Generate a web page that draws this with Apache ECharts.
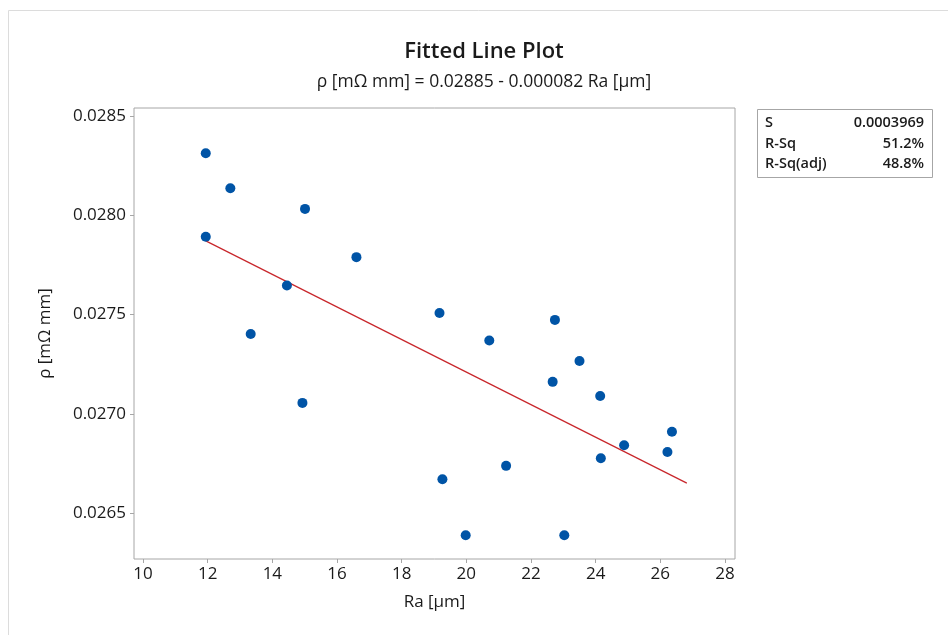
<!DOCTYPE html>
<html>
<head>
<meta charset="utf-8">
<script src="https://cdn.jsdelivr.net/npm/echarts@6/dist/echarts.min.js"></script>
<style>
html,body{margin:0;padding:0;background:#fff;}
#chart{width:948px;height:635px;}
</style>
</head>
<body>
<div id="chart"></div>
<script>
// Data
const ra  = [11.94, 12.70, 15.01, 11.94, 16.60, 14.45, 13.33, 14.93, 19.17, 22.74, 20.71, 23.50, 22.67, 24.14, 26.36, 24.88, 26.22, 24.16, 21.23, 19.26, 19.98, 23.03];
const rho = [0.028312, 0.028136, 0.028032, 0.027892, 0.027789, 0.027646, 0.027402, 0.027055, 0.027508, 0.027473, 0.027369, 0.027266, 0.027161, 0.027090, 0.026910, 0.026842, 0.026808, 0.026776, 0.026738, 0.026671, 0.026389, 0.026389];
const fitRa  = [11.94, 26.82];
const fitRho = [0.027871, 0.026651];
const xTicks = [10, 12, 14, 16, 18, 20, 22, 24, 26, 28];
const yTicks = [0.0265, 0.0270, 0.0275, 0.0280, 0.0285];
const statLabels = ['S', 'R-Sq', 'R-Sq(adj)'];
const statValues = ['0.0003969', '51.2%', '48.8%'];
const titleText = 'Fitted Line Plot';
const subtitleText = 'ρ [mΩ mm] = 0.02885 - 0.000082 Ra [µm]';
const xName = 'Ra [µm]';
const yName = 'ρ [mΩ mm]';

const FONT = 'Open Sans';
const TXT = '#1a1a1a';
const chart = echarts.init(document.getElementById('chart'), null, {renderer: 'canvas'});

const points = ra.map((x, i) => [x, rho[i]]);
const fitLine = fitRa.map((x, i) => [x, fitRho[i]]);

const statGraphics = [];
statLabels.forEach((lab, i) => {
  const y = 123 + i * 20.5;
  statGraphics.push({type: 'text', x: 765, y: y, style: {text: lab, fill: TXT, font: '600 14.5px "' + FONT + '"', textAlign: 'left', textVerticalAlign: 'middle'}});
  statGraphics.push({type: 'text', x: 924, y: y, style: {text: statValues[i], fill: TXT, font: '600 14.5px "' + FONT + '"', textAlign: 'right', textVerticalAlign: 'middle'}});
});

const option = {
  backgroundColor: '#ffffff',
  animation: false,
  textStyle: {fontFamily: FONT},
  grid: {left: 134, top: 108, width: 601, height: 451, show: true, borderColor: '#a6a6a6', borderWidth: 1, containLabel: false},
  xAxis: {
    type: 'value', min: 9.72, max: 28.31,
    name: xName, nameLocation: 'middle', nameGap: 35,
    nameTextStyle: {fontFamily: FONT, fontSize: 17, color: TXT},
    axisLine: {show: false},
    axisTick: {show: true, customValues: xTicks, length: 4, lineStyle: {color: '#a6a6a6'}},
    axisLabel: {customValues: xTicks, fontFamily: FONT, fontSize: 17, color: TXT, margin: 7},
    splitLine: {show: false}
  },
  yAxis: {
    type: 'value', min: 0.026269, max: 0.02854,
    name: yName, nameLocation: 'middle', nameGap: 80, nameRotate: 90,
    nameTextStyle: {fontFamily: FONT, fontSize: 17, color: TXT},
    axisLine: {show: false},
    axisTick: {show: true, customValues: yTicks, length: 4, lineStyle: {color: '#a6a6a6'}},
    axisLabel: {customValues: yTicks, fontFamily: FONT, fontSize: 17, color: TXT, margin: 8,
      formatter: v => v.toFixed(4)},
    splitLine: {show: false}
  },
  graphic: [
    {type: 'rect', shape: {x: 8.5, y: 10.5, width: 1000, height: 1000}, style: {fill: null, stroke: '#dcdcdc', lineWidth: 1}, silent: true, z: -10},
    {type: 'text', x: 484, y: 52, style: {text: titleText, fill: TXT, font: '600 22px "' + FONT + '"', textAlign: 'center', textVerticalAlign: 'middle'}},
    {type: 'text', x: 484, y: 82, style: {text: subtitleText, fill: TXT, font: '17.5px "' + FONT + '"', textAlign: 'center', textVerticalAlign: 'middle'}},
    {type: 'rect', shape: {x: 757.5, y: 109.5, width: 175, height: 68}, style: {fill: '#fff', stroke: '#a6a6a6', lineWidth: 1}},
    ...statGraphics
  ],
  series: [
    {type: 'line', data: fitLine, showSymbol: false, symbol: 'none', lineStyle: {color: '#c8262b', width: 1.2}, z: 2},
    {type: 'scatter', data: points, symbol: 'circle', symbolSize: 10, itemStyle: {color: '#0054a6', opacity: 1}, z: 3}
  ]
};
chart.setOption(option);
</script>
</body>
</html>
